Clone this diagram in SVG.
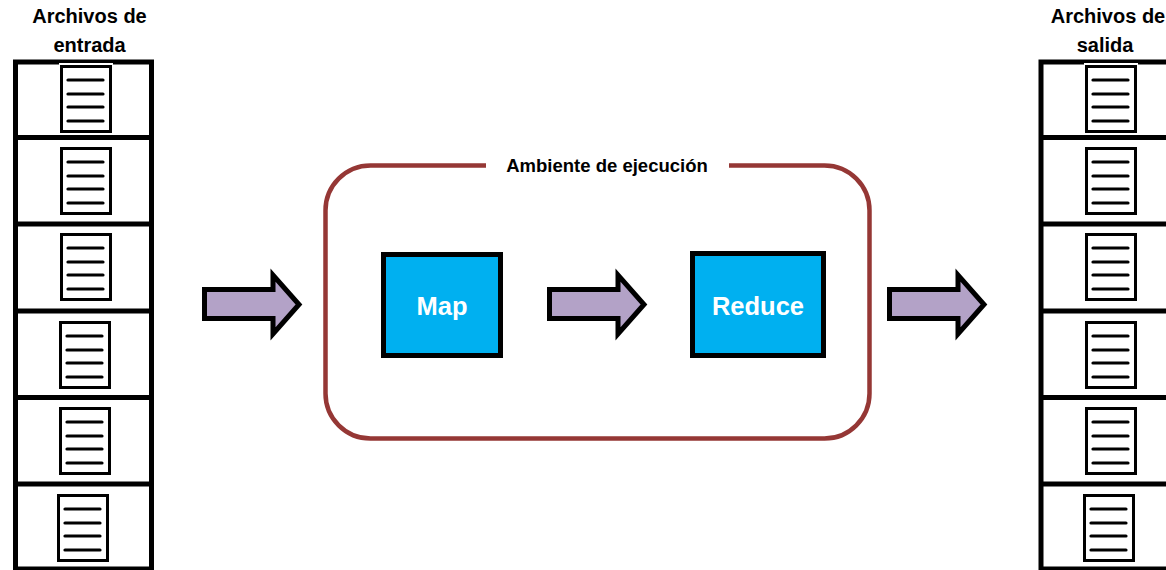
<svg xmlns="http://www.w3.org/2000/svg" xmlns:xlink="http://www.w3.org/1999/xlink" width="1166" height="570" viewBox="0 0 1166 570">
<style>
  .hdr{font-family:"Liberation Sans",Arial,sans-serif;font-weight:bold;font-size:20px;fill:#000;text-anchor:middle}
  .env{font-family:"Liberation Sans",Arial,sans-serif;font-weight:bold;font-size:18.5px;fill:#000;text-anchor:middle}
  .lbl{font-family:"Liberation Sans",Arial,sans-serif;font-weight:bold;font-size:25.5px;fill:#fff;text-anchor:middle}
  .col{fill:none;stroke:#000;stroke-width:5}
  .box{fill:#00B0F0;stroke:#000;stroke-width:5}
  .arrow{fill:#B3A2C7;stroke:#000;stroke-width:5;stroke-linejoin:miter;stroke-miterlimit:10}
  .frame{fill:none;stroke:#953735;stroke-width:4.5}
</style>
<defs>
  <g id="doc">
    <rect x="-1" y="-2" width="54" height="71" fill="#fff"/>
    <rect x="1.5" y="1.5" width="49" height="65" fill="#fff" stroke="#000" stroke-width="3"/>
    <g stroke="#000" stroke-width="3.2" stroke-linecap="round">
      <line x1="8" y1="15" x2="43" y2="15"/>
      <line x1="8" y1="29" x2="43" y2="29"/>
      <line x1="8" y1="42" x2="43" y2="42"/>
      <line x1="8" y1="56" x2="43" y2="56"/>
    </g>
  </g>
  <path id="arr" d="M2.5,289.5 H71 V275 L97,304.5 L71,334 V318.5 H2.5 Z"/>
</defs>

<g id="input-files">
  <text class="hdr" x="89.5" y="23">Archivos de</text>
  <text class="hdr" x="89.5" y="52">entrada</text>
  <rect class="col" x="15.5" y="62" width="136" height="507"/>
  <g stroke="#000" stroke-width="5">
    <line x1="15.5" y1="137.5" x2="151.5" y2="137.5"/>
    <line x1="15.5" y1="224" x2="151.5" y2="224"/>
    <line x1="15.5" y1="311" x2="151.5" y2="311"/>
    <line x1="15.5" y1="397.5" x2="151.5" y2="397.5"/>
    <line x1="15.5" y1="484" x2="151.5" y2="484"/>
  </g>
  <use xlink:href="#doc" x="60" y="65"/>
  <use xlink:href="#doc" x="60" y="147"/>
  <use xlink:href="#doc" x="60" y="233"/>
  <use xlink:href="#doc" x="59" y="321"/>
  <use xlink:href="#doc" x="59" y="407"/>
  <use xlink:href="#doc" x="57" y="494"/>
</g>

<g id="output-files">
  <text class="hdr" x="1108" y="23">Archivos de</text>
  <text class="hdr" x="1105" y="52">salida</text>
  <rect class="col" x="1041" y="62" width="136" height="507"/>
  <g stroke="#000" stroke-width="5">
    <line x1="1041" y1="137.5" x2="1177" y2="137.5"/>
    <line x1="1041" y1="224" x2="1177" y2="224"/>
    <line x1="1041" y1="311" x2="1177" y2="311"/>
    <line x1="1041" y1="397.5" x2="1177" y2="397.5"/>
    <line x1="1041" y1="484" x2="1177" y2="484"/>
  </g>
  <use xlink:href="#doc" x="1085" y="65"/>
  <use xlink:href="#doc" x="1085" y="147"/>
  <use xlink:href="#doc" x="1085" y="233"/>
  <use xlink:href="#doc" x="1085" y="321"/>
  <use xlink:href="#doc" x="1085" y="407"/>
  <use xlink:href="#doc" x="1083" y="494"/>
</g>

<g id="environment">
  <path class="frame" d="M486,165.5 H370.5 A45,45 0 0 0 325.5,210.5 V393.5 A45,45 0 0 0 370.5,438.5 H824.5 A45,45 0 0 0 869.5,393.5 V210.5 A45,45 0 0 0 824.5,165.5 H729"/>
  <text class="env" x="607" y="172">Ambiente de ejecución</text>
</g>

<g id="map">
  <rect class="box" x="383.5" y="254.5" width="117" height="101"/>
  <text class="lbl" x="442" y="315">Map</text>
</g>

<g id="reduce">
  <rect class="box" x="692.5" y="253.5" width="131" height="102"/>
  <text class="lbl" x="758" y="315">Reduce</text>
</g>

<g id="connectors">
  <use class="arrow" xlink:href="#arr" x="202" y="0"/>
  <use class="arrow" xlink:href="#arr" x="547" y="0"/>
  <use class="arrow" xlink:href="#arr" x="887" y="0"/>
</g>
</svg>
